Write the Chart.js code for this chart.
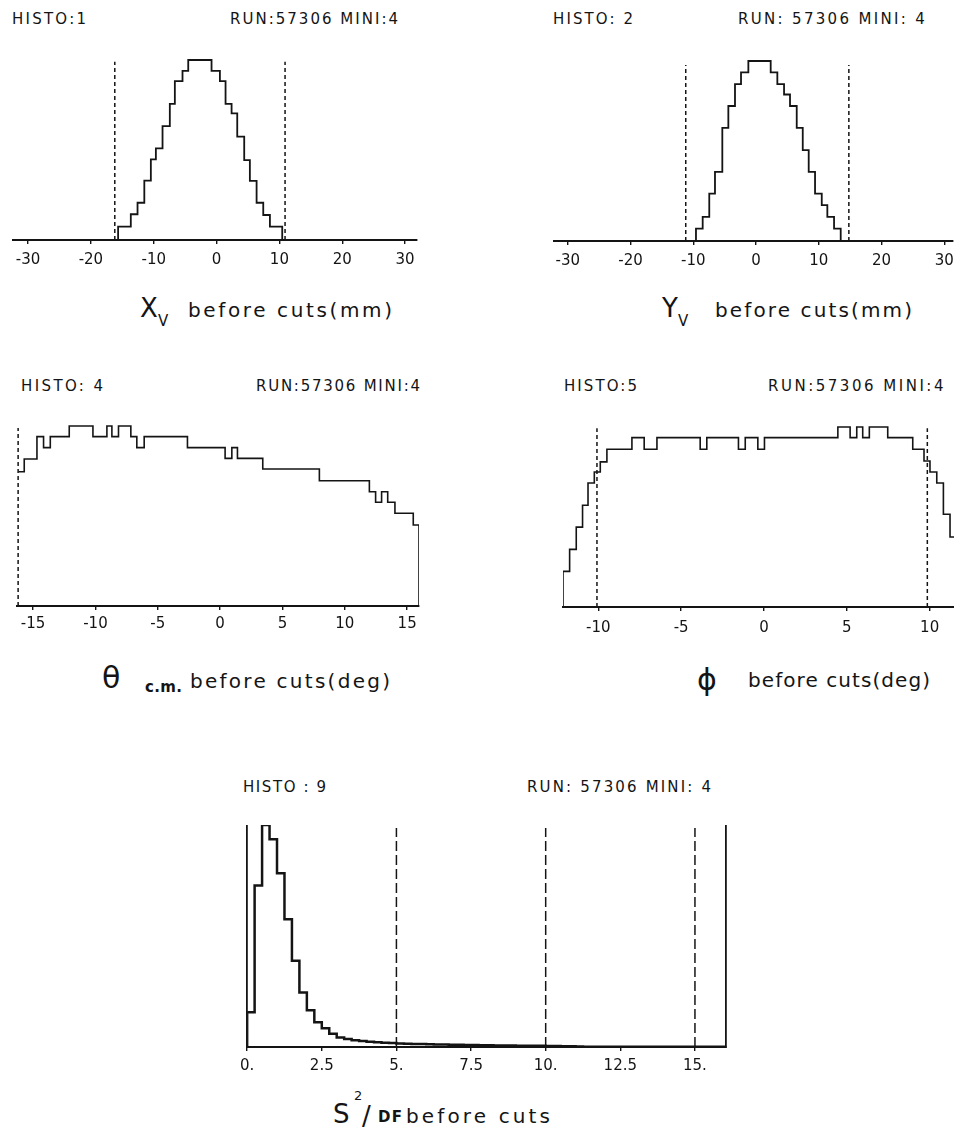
<!DOCTYPE html>
<html>
<head>
<meta charset="utf-8">
<title>HISTO before cuts</title>
<script src="https://cdn.jsdelivr.net/npm/chart.js@4.4.1/dist/chart.umd.min.js"></script>
<style>
  html, body { margin: 0; padding: 0; background: #fff; }
  body { position: relative; width: 954px; height: 1135px; overflow: hidden; font-family: "DejaVu Sans", sans-serif; color: #141414; }
  canvas { position: absolute; }
  .t { position: absolute; white-space: nowrap; line-height: 1; }
</style>
</head>
<body>
<script>
// values, peak bin scaled to 100

// HISTO 1 : X_V (mm)
const xv_edges = [-15.67, -13.65, -12.58, -11.5, -10.46, -9.66, -8.6, -7.44, -6.64, -5.42, -4.51, -0.8, 0.53, 1.43, 2.39, 3.29, 4.40, 5.30, 6.37, 7.43, 8.49, 10.45];
const xv_counts = [7.4, 14.3, 20.7, 33, 44.8, 50.9, 63.3, 75.6, 88.3, 94, 100, 94, 88.3, 75.6, 70.4, 57.4, 44.4, 32.8, 20.7, 13.9, 7.4];
const xv_cuts = [-16.2, 10.9];
const xv_ticks = [-30, -20, -10, 0, 10, 20, 30];
const xv_tick_labels = ['-30', '-20', '-10', '0', '10', '20', '30'];

// HISTO 2 : Y_V (mm)
const yv_edges = [-9.57, -8.5, -7.45, -6.54, -5.37, -4.41, -3.35, -2.39, -1.22, 2.34, 3.4, 4.47, 5.42, 6.49, 7.45, 8.4, 9.41, 10.48, 11.37, 12.44, 13.5];
const yv_counts = [6.9, 13.4, 26.3, 38.4, 62.9, 75, 87.2, 93.7, 100, 93.7, 87.2, 81.4, 75, 62.9, 50.5, 38.4, 26.3, 19.9, 13.4, 6.9];
const yv_cuts = [-11.2, 14.8];
const yv_ticks = [-30, -20, -10, 0, 10, 20, 30];
const yv_tick_labels = ['-30', '-20', '-10', '0', '10', '20', '30'];

// HISTO 4 : theta c.m. (deg)
const th_edges = [-16.16, -15.71, -14.69, -14.16, -13.62, -12.10, -10.20, -9.08, -8.68, -8.15, -7.16, -6.68, -6.09, -2.62, 0.40, 0.94, 1.39, 3.42, 7.96, 11.97, 12.47, 12.95, 13.44, 14.02, 15.49, 15.95];
const th_counts = [74.6, 81.7, 94.1, 88, 94.1, 100, 94.1, 100, 94.1, 100, 94.1, 88, 94.1, 88, 82, 88, 82, 76.1, 69.6, 63.5, 57.6, 63.5, 57.6, 51.5, 45];
const th_cuts = [-16.2, 16.08];
const th_ticks = [-15, -10, -5, 0, 5, 10, 15];
const th_tick_labels = ['-15', '-10', '-5', '0', '5', '10', '15'];

// HISTO 5 : phi (deg)
const ph_edges = [-12.13, -11.73, -11.33, -10.95, -10.62, -10.24, -9.88, -9.48, -7.97, -7.23, -6.46, -3.85, -3.45, -1.54, -1.13, -0.37, 0.03, 4.46, 5.20, 5.60, 5.96, 6.36, 7.47, 8.98, 9.66, 10.02, 10.43, 10.83, 11.23, 11.7];
const ph_counts = [19.8, 32, 44.4, 56.5, 68.9, 75, 80.6, 87.6, 94.1, 87.6, 94.1, 87.6, 94.1, 87.6, 94.1, 87.6, 94.1, 100, 94.1, 100, 94.1, 100, 94.1, 87.6, 81.1, 75, 68.9, 51.5, 38.9];
const ph_cuts = [-10.08, 9.86];
const ph_ticks = [-10, -5, 0, 5, 10];
const ph_tick_labels = ['-10', '-5', '0', '5', '10'];

// HISTO 9 : S^2/DF
const s2_edges = [0, 0.25, 0.5, 0.75, 1, 1.25, 1.5, 1.75, 2, 2.25, 2.5, 2.75, 3, 3.25, 3.5, 3.75, 4, 4.25, 4.5, 4.75,
  5, 5.25, 5.5, 5.75, 6, 6.25, 6.5, 6.75, 7, 7.25, 7.5, 7.75, 8, 8.25, 8.5, 8.75, 9, 9.25, 9.5, 9.75,
  10, 10.25, 10.5, 10.75, 11, 11.25, 16];
const s2_counts = [15.6, 72.7, 100, 93.6, 78.3, 57.6, 38.8, 24.6, 16.5, 11.1, 8.5, 6.0, 4.3, 3.6, 3.0, 2.7, 2.4, 2.1, 1.9, 1.8,
  1.6, 1.5, 1.4, 1.3, 1.2, 1.1, 1.1, 1.0, 1.0, 0.9, 0.9, 0.8, 0.8, 0.7, 0.7, 0.7, 0.6, 0.6, 0.6, 0.6,
  0.5, 0.4, 0.3, 0.3, 0.2, 0.1];
const s2_cuts = [5, 10, 15];
const s2_ticks = [0, 2.5, 5, 7.5, 10, 12.5, 15];
const s2_tick_labels = ['0.', '2.5', '5.', '7.5', '10.', '12.5', '15.'];

const ink = '#141414';

// page layout of each plot (chart area in page pixels)
const panels = [
  { edges: xv_edges, counts: xv_counts, cuts: xv_cuts, cutTop: 99, ticks: xv_ticks, labels: xv_tick_labels,
    xmin: -32.4, xmax: 31.9, left: 13, right: 417, bottom: 240, peak: 60, ymax: 105, tickPad: 7, lw: 1.8, dash: [4, 3] },
  { edges: yv_edges, counts: yv_counts, cuts: yv_cuts, cutTop: 97.8, ticks: yv_ticks, labels: yv_tick_labels,
    xmin: -32.2, xmax: 31.4, left: 554, right: 953, bottom: 241, peak: 61, ymax: 105, tickPad: 7, lw: 1.8, dash: [4, 3] },
  { edges: th_edges, counts: th_counts, cuts: th_cuts, cutTop: 98.9, ticks: th_ticks, labels: th_tick_labels, openLeft: true,
    xmin: -16.29, xmax: 15.95, left: 17, right: 419, bottom: 606, peak: 426, ymax: 105, tickPad: 5, lw: 1.6, dash: [4, 3] },
  { edges: ph_edges, counts: ph_counts, cuts: ph_cuts, cutTop: 99.3, ticks: ph_ticks, labels: ph_tick_labels,
    xmin: -12.13, xmax: 11.47, left: 563, right: 954, bottom: 607, peak: 427, ymax: 105, tickPad: 8, lw: 1.6, dash: [4, 3] },
  { edges: s2_edges, counts: s2_counts, cuts: s2_cuts, cutTop: 98.7, ticks: s2_ticks, labels: s2_tick_labels, frame: true,
    xmin: 0, xmax: 16.04, left: 246, right: 726, bottom: 1047, peak: 825, ymax: 100, tickPad: 6, lw: 2.5, dash: [10, 4] }
];

function histPoints(edges, counts, openLeft) {
  const pts = openLeft ? [] : [{ x: edges[0], y: 0 }];
  counts.forEach((c, i) => pts.push({ x: edges[i], y: c }));
  pts.push({ x: edges[edges.length - 1], y: 0 });
  return pts;
}

const tickFont = { family: 'DejaVu Sans', size: 15 };

panels.forEach(p => {
  const padL = 12, padR = 12;
  const top = Math.round(p.bottom - (p.bottom - p.peak) * p.ymax / 100);
  const cv = document.createElement('canvas');
  cv.width = p.right - p.left + padL + padR;
  cv.height = p.bottom - top + 30;
  cv.style.left = (p.left - padL) + 'px';
  cv.style.top = top + 'px';
  document.body.appendChild(cv);

  const datasets = p.cuts.map(c => ({
    data: [{ x: c, y: 0 }, { x: c, y: p.cutTop }],
    borderColor: ink, borderWidth: 1.5, borderDash: p.dash, pointRadius: 0, fill: false
  }));
  datasets.push({
    data: histPoints(p.edges, p.counts, p.openLeft),
    stepped: true, borderColor: ink, borderWidth: p.lw, borderJoinStyle: 'miter',
    pointRadius: 0, fill: false
  });

  const side = pos => ({
    position: pos, min: 0, max: p.ymax, display: !!p.frame,
    ticks: { display: false },
    grid: { display: false, drawTicks: false },
    border: { display: true, color: ink, width: 1.8 },
    afterFit: s => { s.width = 0; }
  });

  const scales = {
    x: {
      type: 'linear', min: p.xmin, max: p.xmax,
      afterBuildTicks: s => { s.ticks = p.ticks.map(v => ({ value: v })); },
      afterFit: s => { s.height = 30; },
      ticks: { autoSkip: false, maxRotation: 0, padding: p.tickPad, color: ink, font: tickFont,
        callback: (v, i) => p.labels[i] },
      grid: { drawOnChartArea: false, drawTicks: true, tickLength: 4, color: ink, lineWidth: 1.4 },
      border: { display: true, color: ink, width: 2 }
    },
    y: side('left')
  };
  if (p.frame) scales.yr = side('right');

  new Chart(cv, {
    type: 'line',
    data: { datasets: datasets },
    options: {
      responsive: false,
      animation: false,
      events: [],
      layout: { padding: { left: padL, right: padR, top: 0, bottom: 0 } },
      plugins: { legend: { display: false }, tooltip: { enabled: false } },
      scales: scales
    }
  });
});

// text: [text, left x, baseline y, font size, fitted width, bold]
const texts = [
  ['HISTO:1', 12, 25, 15, 74],
  ['RUN:57306 MINI:4', 230, 25, 15, 168],
  ['HISTO: 2', 553, 25, 15, 80],
  ['RUN: 57306  MINI: 4', 738, 25, 15, 189],
  ['HISTO: 4', 21, 392, 15, 82],
  ['RUN:57306 MINI:4', 256, 392, 15, 164],
  ['HISTO:5', 564, 392, 15, 73],
  ['RUN:57306  MINI:4', 768, 392, 15, 178],
  ['HISTO : 9', 243, 793, 15, 83],
  ['RUN: 57306 MINI: 4', 527, 793, 15, 184],
  ['X', 140, 317, 26],
  ['V', 158, 327, 15],
  ['before cuts(mm)', 188, 317, 20, 204],
  ['Y', 662, 317, 26],
  ['V', 678, 327, 15],
  ['before cuts(mm)', 715, 317, 20, 197],
  ['θ', 102, 688, 30],
  ['c.m.', 145, 693, 15, 37, true],
  ['before cuts(deg)', 190, 688, 20, 200],
  ['ϕ', 697, 690, 30],
  ['before cuts(deg)', 748, 687, 20, 182],
  ['S', 333, 1123, 26],
  ['2', 354, 1100, 13],
  ['/', 362, 1125, 26],
  ['DF', 378, 1123, 15, 24, true],
  ['before cuts', 406, 1123, 20, 144]
];

texts.forEach(([txt, x, base, size, w, bold]) => {
  const el = document.createElement('div');
  el.className = 't';
  el.textContent = txt;
  el.style.fontSize = size + 'px';
  el.style.left = x + 'px';
  el.style.top = (base - 0.846 * size) + 'px';
  if (bold) el.style.fontWeight = 'bold';
  document.body.appendChild(el);
  if (w && txt.length > 1) {
    const natural = el.getBoundingClientRect().width;
    el.style.letterSpacing = ((w - natural) / (txt.length - 1)) + 'px';
  }
});
</script>
</body>
</html>
